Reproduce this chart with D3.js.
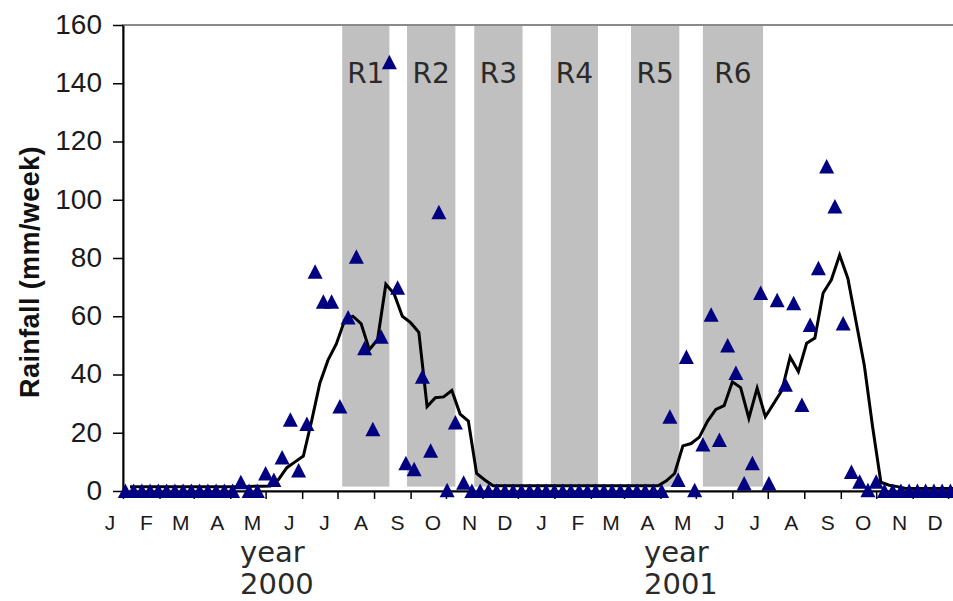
<!DOCTYPE html>
<html>
<meta charset="utf-8">
<script src="https://d3js.org/d3.v7.min.js"></script>
<style>
  body { margin: 0; background: #fff; }
  text { font-family: "Liberation Sans", Arial, sans-serif; fill: #222; }
</style>
<body>
<div id="vis"></div>
<script>
// weekly rainfall (triangles), one value a week from 3 Jan 2000
const weeklyRain = [
  0, 0, 0, 0, 0, 0, 0, 0, 0, 0, 0, 0, 0, 0,
  3, 0, 0, 6, 3.8, 11.5, 24.5, 7, 23, 75.3, 65, 65, 29, 59.6, 80.4, 49,
  21.2, 53, 147.2, 69.8, 9.5, 7.5, 39.2, 13.8, 95.7, 0.3, 23.5, 2.8,
  0, 0, 0, 0, 0, 0, 0, 0, 0, 0, 0, 0, 0, 0, 0, 0, 0, 0, 0, 0, 0, 0, 0, 0,
  25.5, 3.8, 46, 0.3, 16, 60.5, 17.5, 50, 40.5, 2.6, 9.5, 68, 2.6, 65.5,
  36.5, 64.5, 29.5, 57, 76.5, 111.4, 97.7, 57.5, 6.5, 3.2, 0.3, 3.2,
  0, 0, 0, 0, 0, 0, 0, 0, 0
];

// smoothed weekly rainfall (line), one value a week from 7 Jan 2000
const smoothRain = [
  1.5, 1.5, 1.5, 1.5, 1.5, 1.5, 1.5, 1.5, 1.5, 1.5, 1.5, 1.5, 1.5, 1.5,
  1.5, 1.6, 1.6, 1.7, 4, 8, 10, 12, 24, 37, 45, 50.5, 58.5, 60, 57.5, 48.5,
  52, 71, 67.7, 60, 57.8, 54.5, 29, 32, 32.3, 34.5, 26.4, 24, 6, 3.8, 1.8,
  1.8, 1.8, 1.8, 1.8, 1.8, 1.8, 1.8, 1.8, 1.8, 1.8, 1.8, 1.8, 1.8, 1.8,
  1.8, 1.8, 1.8, 1.8, 1.8, 1.8,
  3.5, 6, 15.5, 16.3, 18.5, 24, 28, 29.3, 37.5, 35.5, 25, 35.3, 25.5, 30,
  34.5, 46, 41, 50.7, 52.5, 68, 72.5, 81, 73, 58, 43, 22, 3, 2, 1.5,
  0.9, 0.9, 0.9, 0.9, 0.9, 0.9, 0.9
];

const periods = ["R1", "R2", "R3", "R4", "R5", "R6"];
const periodStart = ["2000-07-05", "2000-08-29", "2000-10-25", "2000-12-29", "2001-03-07", "2001-05-07"];
const periodEnd   = ["2000-08-14", "2000-10-09", "2000-12-05", "2001-02-07", "2001-04-17", "2001-06-27"];

const monthLetters = ["J", "F", "M", "A", "M", "J", "J", "A", "S", "O", "N", "D"];
const years = ["2000", "2001"];
const yTicks = [0, 20, 40, 60, 80, 100, 120, 140, 160];

const width = 953, height = 601;
const plotLeft = 123, plotTop = 25, plotBottom = 491, plotRight = 984.6;

const svg = d3.select("#vis").append("svg")
    .attr("width", width)
    .attr("height", height);

const x = d3.scaleUtc()
  .domain([new Date(Date.UTC(2000, 0, 1)), new Date(Date.UTC(2002, 0, 1))])
  .range([plotLeft, plotRight]);

const y = d3.scaleLinear()
  .domain([0, 160])
  .range([plotBottom, plotTop]);

const rainDates = weeklyRain.map((d, i) => d3.utcDay.offset(new Date(Date.UTC(2000, 0, 3)), 7 * i));
const smoothDates = smoothRain.map((d, i) => d3.utcDay.offset(new Date(Date.UTC(2000, 0, 7)), 7 * i));

// grey periods
const parse = d3.utcParse("%Y-%m-%d");
svg.append("g")
  .selectAll("rect")
  .data(periods)
  .join("rect")
    .attr("x", (d, i) => x(parse(periodStart[i])))
    .attr("width", (d, i) => x(parse(periodEnd[i])) - x(parse(periodStart[i])))
    .attr("y", y(160))
    .attr("height", y(1.5) - y(160))
    .style("fill", "#c0c0c0");

svg.append("g")
  .selectAll("text")
  .data(periods)
  .join("text")
    .attr("x", (d, i) => (x(parse(periodStart[i])) + x(parse(periodEnd[i]))) / 2)
    .attr("y", 83)
    .attr("text-anchor", "middle")
    .style("font-family", "'DejaVu Sans', sans-serif")
    .style("font-size", "28px")
    .style("fill", "#2a2a2a")
    .text(d => d);

// plot area border
svg.append("rect")
  .attr("x", plotLeft)
  .attr("y", plotTop)
  .attr("width", plotRight - plotLeft)
  .attr("height", plotBottom - plotTop)
  .style("fill", "none")
  .style("stroke", "#8a8a8a")
  .style("stroke-width", 2);

// axes
const yAxis = svg.append("g")
  .attr("transform", `translate(${plotLeft},0)`)
  .call(d3.axisLeft(y).tickValues(yTicks).tickSize(10).tickSizeOuter(0).tickPadding(11));
yAxis.select(".domain").attr("stroke", "#000").attr("stroke-width", 2);
yAxis.selectAll(".tick line").attr("stroke", "#000").attr("stroke-width", 1.5);
yAxis.selectAll(".tick text")
  .style("font-family", "'Liberation Sans', Arial, sans-serif")
  .style("font-size", "28px")
  .style("fill", "#1a1a1a")
  .attr("dy", "0.30em");

const xAxis = svg.append("g")
  .attr("transform", `translate(0,${plotBottom})`)
  .call(d3.axisBottom(x).ticks(d3.utcMonth.every(1)).tickFormat("").tickSize(8).tickSizeOuter(0));
xAxis.select(".domain").attr("stroke", "#000").attr("stroke-width", 2);
xAxis.selectAll(".tick line").attr("stroke", "#000").attr("stroke-width", 1.5);

// month letters (sit a little left of each month start)
const months = [];
years.forEach((yr, yi) => monthLetters.forEach((m, mi) => months.push({ m: m, date: new Date(Date.UTC(+yr, mi, 1)) })));
svg.append("g")
  .selectAll("text")
  .data(months)
  .join("text")
    .attr("x", d => x(d.date) - 13)
    .attr("y", 530)
    .attr("text-anchor", "middle")
    .style("font-size", "21px")
    .style("fill", "#1a1a1a")
    .text(d => d.m);

// year labels
const yearX = [240, 644];
years.forEach((yr, i) => {
  const t = svg.append("text")
    .attr("x", yearX[i])
    .attr("y", 562)
    .style("font-family", "'DejaVu Sans', sans-serif")
    .style("font-size", "29px")
    .style("fill", "#2a2a2a");
  t.append("tspan").attr("x", yearX[i]).text("year");
  t.append("tspan").attr("x", yearX[i]).attr("dy", 32).text(yr);
});

// y label
svg.append("text")
  .attr("transform", `translate(39,272) rotate(-90)`)
  .attr("text-anchor", "middle")
  .style("font-weight", "bold")
  .style("font-size", "27px")
  .style("letter-spacing", "0.4px")
  .style("fill", "#111")
  .text("Rainfall (mm/week)");

// smoothed line
svg.append("path")
  .datum(smoothRain)
  .attr("d", d3.line().x((d, i) => x(smoothDates[i])).y(d => y(d)))
  .style("fill", "none")
  .style("stroke", "#000")
  .style("stroke-width", 3);

// weekly triangles
svg.append("g")
  .selectAll("path")
  .data(weeklyRain)
  .join("path")
    .attr("transform", (d, i) => `translate(${x(rainDates[i])},${y(d)})`)
    .attr("d", "M0,-7.5L7.5,7L-7.5,7Z")
    .style("fill", "#000080");
</script>
</body>
</html>
